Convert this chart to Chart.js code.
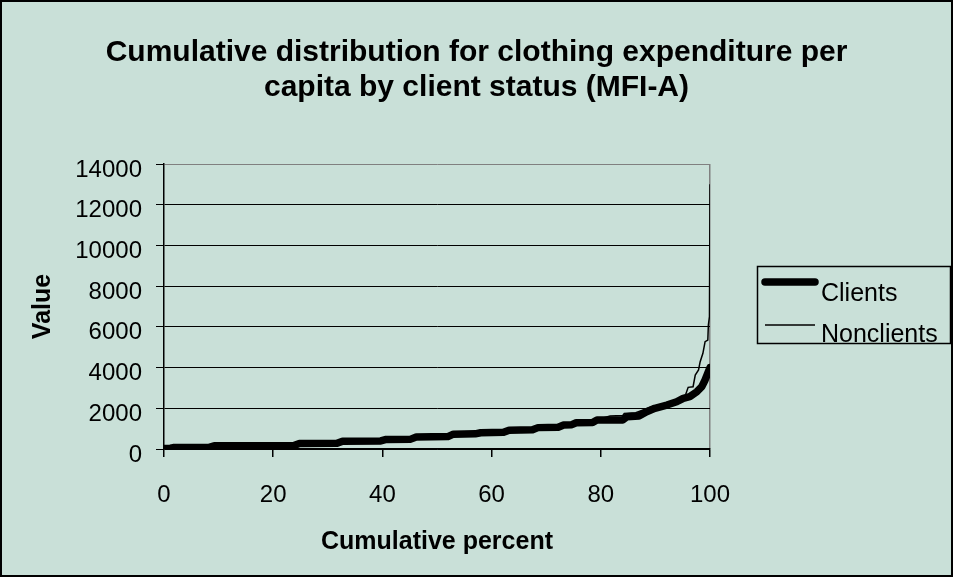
<!DOCTYPE html>
<html lang="en">
<head>
<meta charset="utf-8">
<title>Cumulative distribution for clothing expenditure per capita</title>
<script src="https://cdn.jsdelivr.net/npm/chart.js@4.4.1/dist/chart.umd.min.js"></script>
<style>
  html, body { margin: 0; padding: 0; background: #ffffff; overflow: hidden; }
  canvas { display: block; }
</style>
</head>
<body>
<canvas id="grafico" width="953" height="577"></canvas>
<script>
// Porcentaje acumulado (eje X) y valor (eje Y)
const porcClientes = [0, 1.2, 1.7, 8.3, 9.2, 23.8, 24.8, 31.7, 32.7, 39.7, 40.7, 45.2, 46.2, 52, 53,
  57, 58, 62.2, 63.2, 67.5, 68.5, 72.2, 73.2, 74.7, 75.5, 78.5, 79.3, 84, 84.8, 87,
  88.4, 89.9, 92.1, 93.9, 95.1, 96.3, 97.6, 98.5, 99.1, 99.7, 100];
const valClientes  = [20, 40, 70, 80, 160, 170, 270, 285, 385, 395, 470, 485, 590, 610, 730,
  745, 800, 820, 925, 945, 1050, 1070, 1180, 1195, 1290, 1300, 1420, 1430, 1590, 1620,
  1830, 2000, 2160, 2320, 2490, 2570, 2815, 3060, 3390, 3800, 4000];

const porcNoClientes = [0, 2, 8, 10, 24, 25.5, 31, 33, 40, 41, 45, 47, 52, 53.5, 57,
  58.5, 62, 64, 67, 69, 72, 73.5, 75, 76, 78, 79.5, 81.7, 84, 84.3, 86.4,
  89.7, 91, 93, 95.4, 96, 96.9, 97.3, 97.9, 98.2, 98.7, 99.1, 99.6, 99.7, 99.9, 100];
const valNoClientes  = [10, 60, 90, 170, 180, 280, 290, 390, 400, 480, 490, 600, 620, 730, 750,
  820, 830, 940, 950, 1060, 1080, 1190, 1200, 1300, 1320, 1450, 1620, 1640, 1750, 1780,
  2110, 2150, 2250, 2570, 3030, 3060, 3630, 3880, 4290, 4700, 5270, 5350, 6090, 6500, 13000];

const series  = ["Clients", "Nonclients"];
const titulo  = ["Cumulative distribution for clothing expenditure per", "capita by client status (MFI-A)"];
const tituloX = "Cumulative percent";
const tituloY = "Value";

const FONDO = "rgb(201,224,216)";
const GRIS  = "#808080";
const FUENTE = "'Liberation Sans', Arial, sans-serif";

Chart.defaults.font.family = FUENTE;
Chart.defaults.color = "#000";

function puntos(xs, ys) {
  return xs.map((x, i) => ({ x: x, y: ys[i] }));
}

// fondo, marco exterior y leyenda dibujada a mano (linea sobre el texto, como en el original)
const fondoYLeyenda = {
  id: "fondoYLeyenda",
  beforeDraw(chart) {
    const ctx = chart.ctx;
    ctx.save();
    ctx.fillStyle = FONDO;
    ctx.fillRect(0, 0, chart.width, chart.height);
    ctx.restore();
  },
  afterDraw(chart) {
    const ctx = chart.ctx;
    ctx.save();
    ctx.strokeStyle = "#000";
    ctx.lineWidth = 2;
    ctx.strokeRect(1, 1, chart.width - 2, chart.height - 2);

    // caja de la leyenda
    ctx.lineWidth = 1.5;
    ctx.strokeRect(757.5, 266.5, 193, 77);

    const filasLinea = [282, 325];
    const filasTexto = [301, 342];
    ctx.font = "25px " + FUENTE;
    ctx.textBaseline = "alphabetic";
    ctx.textAlign = "left";
    chart.data.datasets.forEach((ds, i) => {
      ctx.beginPath();
      ctx.lineWidth = ds.borderWidth;
      ctx.lineCap = ds.borderWidth > 3 ? "round" : "butt";
      ctx.strokeStyle = ds.borderColor;
      ctx.moveTo(765, filasLinea[i]);
      ctx.lineTo(815, filasLinea[i]);
      ctx.stroke();
      ctx.fillStyle = "#000";
      ctx.fillText(ds.label, 821, filasTexto[i]);
    });
    ctx.restore();
  }
};

const ctx = document.getElementById("grafico").getContext("2d");
new Chart(ctx, {
  type: "line",
  data: {
    datasets: [
      {
        label: series[0],
        data: puntos(porcClientes, valClientes),
        borderColor: "#000",
        borderWidth: 7.5,
        borderCapStyle: "round",
        borderJoinStyle: "round",
        pointRadius: 0,
        tension: 0
      },
      {
        label: series[1],
        data: puntos(porcNoClientes, valNoClientes),
        borderColor: "#000",
        borderWidth: 1.5,
        pointRadius: 0,
        tension: 0
      }
    ]
  },
  options: {
    responsive: false,
    animation: false,
    events: [],
    layout: { padding: 0 },
    plugins: {
      legend: { display: false },
      tooltip: { enabled: false },
      title: {
        display: true,
        text: titulo,
        color: "#000",
        font: { size: 30, weight: "bold", lineHeight: 35 / 30 },
        padding: { top: 35, bottom: 59 }
      }
    },
    scales: {
      x: {
        type: "linear",
        min: 0,
        max: 100,
        afterFit(scale) { scale.height = 128; },
        ticks: { stepSize: 20, padding: 24, font: { size: 24 }, color: "#000", maxRotation: 0 },
        grid: {
          drawOnChartArea: true,
          color: c => (c.tick && c.tick.value === 100) ? GRIS : "rgba(0,0,0,0)",
          tickColor: "#000",
          tickLength: 8,
          lineWidth: 1.5
        },
        border: { display: true, color: "#000", width: 1.5 },
        title: {
          display: true,
          text: tituloX,
          color: "#000",
          font: { size: 25, weight: "bold" },
          padding: { top: 0, bottom: 19.5 }
        }
      },
      y: {
        min: 0,
        max: 14000,
        afterFit(scale) { scale.width = 164; },
        ticks: {
          stepSize: 2000, padding: 14, labelOffset: 6, font: { size: 24 }, color: "#000",
          callback: v => String(v)
        },
        grid: {
          color: c => (c.tick && c.tick.value === 14000) ? GRIS : "#000",
          tickColor: "#000",
          tickLength: 8,
          lineWidth: 1
        },
        border: { display: true, color: "#000", width: 1.5 },
        title: {
          display: true,
          text: tituloY,
          color: "#000",
          font: { size: 25, weight: "bold" },
          padding: { top: 28, bottom: 0 }
        }
      },
      // eje vacio a la derecha: reserva el hueco de la leyenda sin descentrar el titulo
      hueco: {
        position: "right",
        min: 0,
        max: 1,
        afterFit(scale) { scale.width = 243; },
        ticks: { display: false },
        grid: { display: false },
        border: { display: false }
      }
    }
  },
  plugins: [fondoYLeyenda]
});
</script>
</body>
</html>
